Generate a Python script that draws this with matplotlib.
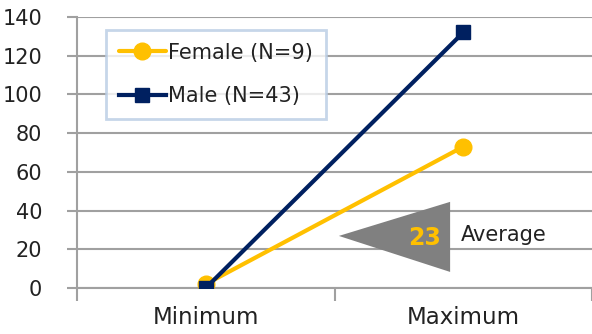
import matplotlib.pyplot as plt
from matplotlib.patches import Polygon

categories = ["Minimum", "Maximum"]
female = [2, 73]
male = [0, 132]
female_label = "Female (N=9)"
male_label = "Male (N=43)"
average_value = 23

gold = "#FFC000"
navy = "#002060"
grid_gray = "#A0A0A0"

plt.rcParams["font.family"] = "DejaVu Sans"

fig = plt.figure(figsize=(5.92, 3.34), dpi=100)
ax = fig.add_axes([77 / 592, 1 - 288 / 334, 1 - 77 / 592, (288 - 17) / 334])

x = list(range(len(categories)))
ax.plot(x, female, color=gold, lw=3, marker="o", ms=12, label=female_label,
        solid_capstyle="round", zorder=3)
ax.plot(x, male, color=navy, lw=3, marker="s", ms=9.5, label=male_label,
        zorder=4)

ax.set_xlim(-0.5, 1.5)
ax.set_ylim(0, 140)
ax.set_yticks(range(0, 141, 20))
ax.set_xticks(x)
ax.set_xticklabels(categories)
ax.set_xticks([-0.5, 0.5, 1.5], minor=True)
ax.tick_params(axis="x", which="major", length=0, pad=13, labelsize=16.5, colors="#222222")
ax.tick_params(axis="x", which="minor", length=9, width=1.5, color=grid_gray)
ax.tick_params(axis="y", length=7, width=1.5, color=grid_gray, labelsize=15,
               pad=18, labelcolor="#222222")

ax.grid(axis="y", color=grid_gray, lw=1.5)
ax.set_axisbelow(True)
for side in ["top", "right"]:
    ax.spines[side].set_visible(False)
ax.spines["left"].set_color(grid_gray)
ax.spines["left"].set_linewidth(1.5)
ax.spines["bottom"].set_color(grid_gray)
ax.spines["bottom"].set_linewidth(1.5)

# average callout: grey arrowhead with value and caption
tri = Polygon([(0.517, 26.9), (0.949, 44.5), (0.949, 8.3)], closed=True,
              facecolor="#808080", edgecolor="none", zorder=5)
ax.add_patch(tri)
ax.text(0.85, 25.8, str(average_value), color=gold, fontsize=17, fontweight="bold",
        ha="center", va="center", zorder=6)
ax.text(0.99, 27.5, "Average", color="#222222", fontsize=15, ha="left", va="center",
        zorder=6)

leg = ax.legend(loc="upper left", bbox_to_anchor=(106 / 592, 1 - 30 / 334),
                bbox_transform=fig.transFigure, fontsize=15, frameon=True,
                fancybox=False, handlelength=2.3, handletextpad=0.1,
                borderpad=0.6, labelspacing=1.15, borderaxespad=0)
leg.get_frame().set_edgecolor("#B8CCE4")
leg.get_frame().set_linewidth(2)
for t in leg.get_texts():
    t.set_color("#222222")

fig.savefig("out.png", dpi=100)
